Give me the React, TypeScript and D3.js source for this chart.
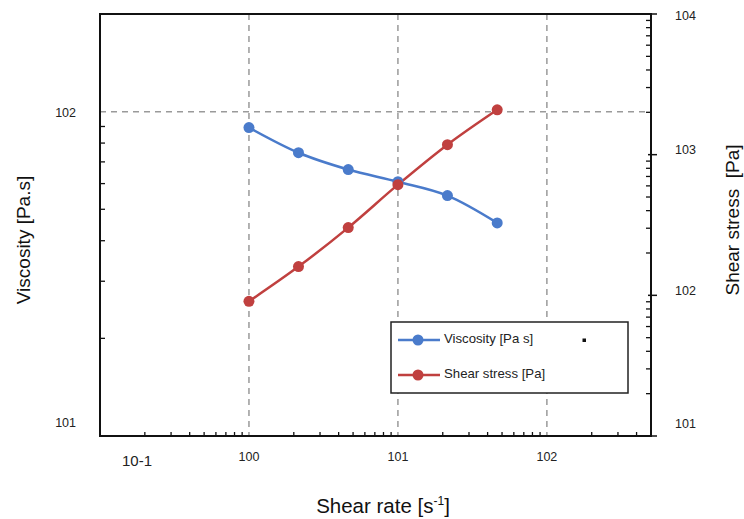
import React from "react";
import * as d3 from "d3";

const shearRate = [1, 2.15, 4.64, 10, 21.5, 46.4];
const viscosity = [89.3, 74.7, 66.3, 60.8, 55.1, 45.4];
const shearStress = [90.6, 160, 303, 612, 1178, 2085];

const xMajor = [0.1, 1, 10, 100];
const xMajorLabels = ["10-1", "100", "101", "102"];
const leftMajor = [10, 100];
const leftMajorLabels = ["101", "102"];
const rightMajor = [10, 100, 1000, 10000];
const rightMajorLabels = ["101", "102", "103", "104"];
const legendLabels = ["Viscosity [Pa s]", "Shear stress [Pa]"];

const BLUE = "#4A7BCB";
const RED = "#C0403F";
const FONT = "Liberation Sans, Arial, sans-serif";

const W = 744, H = 519;
const L = 100, R = 651, T = 14, B = 436;

function minorTicks(lo: number, hi: number) {
  const out: number[] = [];
  for (let d = lo; d < hi; d *= 10) {
    for (let k = 2; k <= 9; k++) {
      const v = d * k;
      if (v < hi * 1.0001) out.push(v);
    }
  }
  return out;
}

export default function App() {
  const x = d3.scaleLog().domain([0.1, 500]).range([L, R]);
  const yL = d3.scaleLog().domain([10, 200]).range([B, T]);
  const yR = d3.scaleLog().domain([10, 10000]).range([B, T]);

  const viscPts = shearRate.map((r, i) => [x(r), yL(viscosity[i])] as [number, number]);
  const stressPts = shearRate.map((r, i) => [x(r), yR(shearStress[i])] as [number, number]);
  const lineGen = d3.line<[number, number]>().curve(d3.curveMonotoneX);

  const xMinor = minorTicks(0.1, 500).filter((v) => !xMajor.includes(v));
  const lMinor = minorTicks(10, 200).filter((v) => !leftMajor.includes(v));
  const rMinor = minorTicks(10, 10000).filter((v) => !rightMajor.includes(v));

  const grid = { stroke: "#9a9a9a", strokeWidth: 1.5, strokeDasharray: "6,5" };

  return (
    <svg width={W} height={H} style={{ position: "absolute", left: 0, top: 0, background: "#fff" }} fontFamily={FONT}>
      <rect x={0} y={0} width={W} height={H} fill="#fff" />
      {/* grid */}
      {xMajor.slice(1).map((v) => (
        <line key={"gx" + v} x1={x(v)} x2={x(v)} y1={T} y2={B} {...grid} />
      ))}
      <line x1={L} x2={R} y1={yL(100)} y2={yL(100)} {...grid} />

      {/* minor ticks */}
      {xMinor.map((v) => (
        <line key={"xm" + v} x1={x(v)} x2={x(v)} y1={B} y2={B - 4} stroke="#111" strokeWidth={1.3} />
      ))}
      {lMinor.map((v) => (
        <line key={"lm" + v} x1={L} x2={L + 5} y1={yL(v)} y2={yL(v)} stroke="#111" strokeWidth={1.3} />
      ))}
      {rMinor.map((v) => (
        <line key={"rm" + v} x1={R} x2={R - 5} y1={yR(v)} y2={yR(v)} stroke="#111" strokeWidth={1.3} />
      ))}
      {rightMajor.map((v) => (
        <line key={"rM" + v} x1={R - 3} x2={R + 6} y1={yR(v)} y2={yR(v)} stroke="#111" strokeWidth={1.5} />
      ))}

      {/* frame */}
      <rect x={L} y={T} width={R - L} height={B - T} fill="none" stroke="#111" strokeWidth={2} />

      {/* series */}
      <path d={lineGen(viscPts) || ""} fill="none" stroke={BLUE} strokeWidth={2.5} />
      <path d={lineGen(stressPts) || ""} fill="none" stroke={RED} strokeWidth={2.5} />
      {viscPts.map((p, i) => (
        <circle key={"vp" + i} cx={p[0]} cy={p[1]} r={5.5} fill={BLUE} />
      ))}
      {stressPts.map((p, i) => (
        <circle key={"sp" + i} cx={p[0]} cy={p[1]} r={5.5} fill={RED} />
      ))}

      {/* x tick labels */}
      {xMajor.map((v, i) => {
        const first = i === 0;
        return (
          <text key={"xl" + v} x={first ? x(v) + 37 : x(v)} y={first ? 462 : 458} textAnchor="middle"
            dominantBaseline="middle" fontSize={first ? 15 : 12.5} fill="#222">
            {xMajorLabels[i]}
          </text>
        );
      })}
      {/* left labels */}
      {leftMajor.map((v, i) => (
        <text key={"ll" + v} x={76} y={Math.min(yL(v) + 2, B - 12)} textAnchor="end" dominantBaseline="middle" fontSize={12.5} fill="#222">
          {leftMajorLabels[i]}
        </text>
      ))}
      {/* right labels */}
      {rightMajor.map((v, i) => (
        <text key={"rl" + v} x={675} y={Math.max(Math.min(yR(v) - 4, B - 11), T + 3)} textAnchor="start" dominantBaseline="middle" fontSize={12.5} fill="#222">
          {rightMajorLabels[i]}
        </text>
      ))}

      {/* axis titles */}
      <text transform="translate(30,240) rotate(-90)" textAnchor="middle" fontSize={19} fill="#111">
        Viscosity [Pa.s]
      </text>
      <text transform="translate(739,220) rotate(-90)" textAnchor="middle" fontSize={19} fill="#111" style={{ whiteSpace: "pre" }}>
        {"Shear stress  [Pa]"}
      </text>
      <text x={383} y={513} textAnchor="middle" fontSize={20.5} fill="#111">
        Shear rate [s
        <tspan fontSize={12} dy={-8}>-1</tspan>
        <tspan dy={8}>]</tspan>
      </text>

      {/* legend */}
      <rect x={391} y={322} width={237} height={71} fill="#fff" stroke="#222" strokeWidth={1.5} />
      {legendLabels.map((lab, i) => {
        const yy = 340 + i * 35;
        const c = i === 0 ? BLUE : RED;
        return (
          <g key={"lg" + i}>
            <line x1={398} x2={440} y1={yy} y2={yy} stroke={c} strokeWidth={2.5} />
            <circle cx={418} cy={yy} r={5.5} fill={c} />
            <text x={444} y={yy} dominantBaseline="middle" fontSize={13.2} fill="#222">{lab}</text>
          </g>
        );
      })}
      <rect x={582.5} y={338.5} width={3.5} height={3.5} fill="#111" />
    </svg>
  );
}
